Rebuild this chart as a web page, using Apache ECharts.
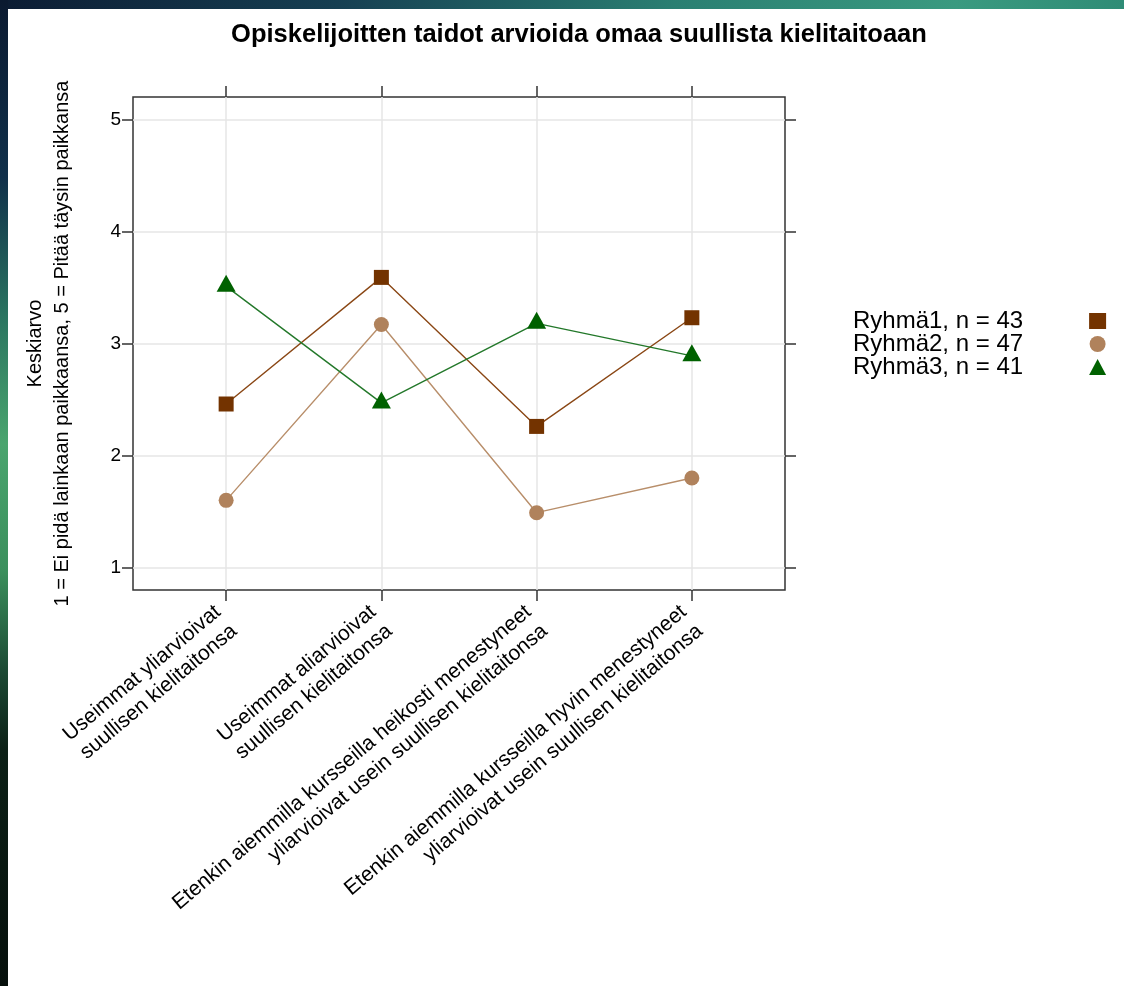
<!DOCTYPE html>
<html>
<head>
<meta charset="utf-8">
<script src="https://cdn.jsdelivr.net/npm/echarts@6/dist/echarts.min.js"></script>
<style>
  html, body { margin: 0; padding: 0; width: 1124px; height: 986px; overflow: hidden; background: #0b1a2a; }
  #topstrip { position: absolute; left: 0; top: 0; width: 1124px; height: 9px;
    background: linear-gradient(to right, #0c1c33 0%, #163f52 30%, #2a7f72 60%, #3a9a80 85%, #2f8c76 100%); }
  #leftstrip { position: absolute; left: 0; top: 0; width: 8px; height: 986px;
    background: linear-gradient(to bottom, #0b1a30 0%, #10304a 18%, #2a7460 32%, #4aa56e 45%, #3b8f5c 58%, #1c4a34 68%, #0c2016 76%, #06100c 100%); }
  #paper { position: absolute; left: 8px; top: 9px; width: 1116px; height: 977px; background: #ffffff; }
  #chart { position: absolute; left: 0; top: 0; width: 1124px; height: 986px; }
</style>
</head>
<body>
<div id="topstrip"></div>
<div id="leftstrip"></div>
<div id="paper"></div>
<div id="chart"></div>
<script>
// ---- data ----
const titleText = 'Opiskelijoitten taidot arvioida omaa suullista kielitaitoaan';
const yAxisTitle = 'Keskiarvo\n1 = Ei pidä lainkaan paikkaansa, 5 = Pitää täysin paikkansa';
const categories = [
  'Useimmat yliarvioivat\nsuullisen kielitaitonsa',
  'Useimmat aliarvioivat\nsuullisen kielitaitonsa',
  'Etenkin aiemmilla kursseilla heikosti menestyneet\nyliarvioivat usein suullisen kielitaitonsa',
  'Etenkin aiemmilla kursseilla hyvin menestyneet\nyliarvioivat usein suullisen kielitaitonsa'
];
const groupNames = ['Ryhmä1, n = 43', 'Ryhmä2, n = 47', 'Ryhmä3, n = 41'];
const ryhma1 = [2.46, 3.59, 2.26, 3.23];
const ryhma2 = [1.60, 3.17, 1.49, 1.80];
const ryhma3 = [3.51, 2.47, 3.18, 2.89];
const yTicks = [1, 2, 3, 4, 5];
const xTicks = [1, 2, 3, 4];

// ---- styles ----
const FONT = "'Liberation Sans', Arial, sans-serif";
const symbolColors = ['#733300', '#b0825c', '#006100'];
const lineColors = ['#8a4715', '#b88e6a', '#23782a'];
const symbols = ['rect', 'circle', 'triangle'];
const symbolSizes = [15, 15, [19, 17]];
const symbolOffsets = [[0, 0], [0, 0], [0, -3]];
const gridBox = { left: 133, top: 97, width: 652, height: 493 };

const seriesValues = [ryhma1, ryhma2, ryhma3];

const chart = echarts.init(document.getElementById('chart'), null, { renderer: 'canvas' });

const xBase = {
  type: 'value', min: 0.4, max: 4.6,
  axisLine: { show: false },
  axisTick: { show: true, inside: false, length: 11, customValues: xTicks, lineStyle: { color: '#333', width: 1.5 } },
  splitLine: { show: false }
};
const yBase = {
  type: 'value', min: 0.8, max: 5.2,
  axisLine: { show: false },
  axisTick: { show: true, inside: false, length: 11, customValues: yTicks, lineStyle: { color: '#333', width: 1.5 } },
  splitLine: { show: false }
};

const option = {
  animation: false,
  backgroundColor: 'transparent',
  title: {
    text: titleText,
    left: 574, top: 17, textAlign: 'center',
    textStyle: { fontFamily: FONT, fontSize: 25.5, fontWeight: 'bold', color: '#000' }
  },
  grid: Object.assign({ show: true, borderColor: '#333', borderWidth: 1.5, backgroundColor: 'transparent' }, gridBox),
  legend: {
    orient: 'vertical', left: 848, top: 304, align: 'right',
    itemGap: -1, itemWidth: 17, itemHeight: 16,
    textStyle: { fontFamily: FONT, fontSize: 24, color: '#000', lineHeight: 22, padding: [0, 61, 0, 0] },
    data: groupNames.map((n, i) => ({ name: n, icon: symbols[i], itemStyle: { color: symbolColors[i] } }))
  },
  xAxis: [
    Object.assign({}, xBase, {
      position: 'bottom',
      splitLine: { show: true, lineStyle: { color: '#e6e6e6', width: 1.5 } },
      axisLabel: {
        show: true, customValues: xTicks, rotate: 40, margin: 29,
        fontFamily: FONT, fontSize: 21, color: '#000', lineHeight: 25,
        formatter: v => categories[Math.round(v) - 1] || ''
      }
    }),
    Object.assign({}, xBase, { position: 'top', axisLabel: { show: false } })
  ],
  yAxis: [
    Object.assign({}, yBase, {
      position: 'left',
      splitLine: { show: true, lineStyle: { color: '#e6e6e6', width: 1.5 } },
      axisLabel: { show: true, customValues: yTicks, margin: 12, fontFamily: FONT, fontSize: 19, color: '#000' },
      name: yAxisTitle, nameLocation: 'middle', nameRotate: 90, nameGap: 57,
      nameTextStyle: { fontFamily: FONT, fontSize: 20, color: '#000', lineHeight: 27, align: 'center' }
    }),
    Object.assign({}, yBase, { position: 'right', axisLabel: { show: false } })
  ],
  series: seriesValues.map((vals, i) => ({
    name: groupNames[i],
    type: 'line',
    xAxisIndex: 0, yAxisIndex: 0,
    data: vals.map((v, j) => [xTicks[j], v]),
    symbol: symbols[i],
    symbolSize: symbolSizes[i],
    symbolOffset: symbolOffsets[i],
    itemStyle: { color: symbolColors[i], borderWidth: 0 },
    lineStyle: { color: lineColors[i], width: 1.4 },
    z: 3 + i
  }))
};
chart.setOption(option);
</script>
</body>
</html>
